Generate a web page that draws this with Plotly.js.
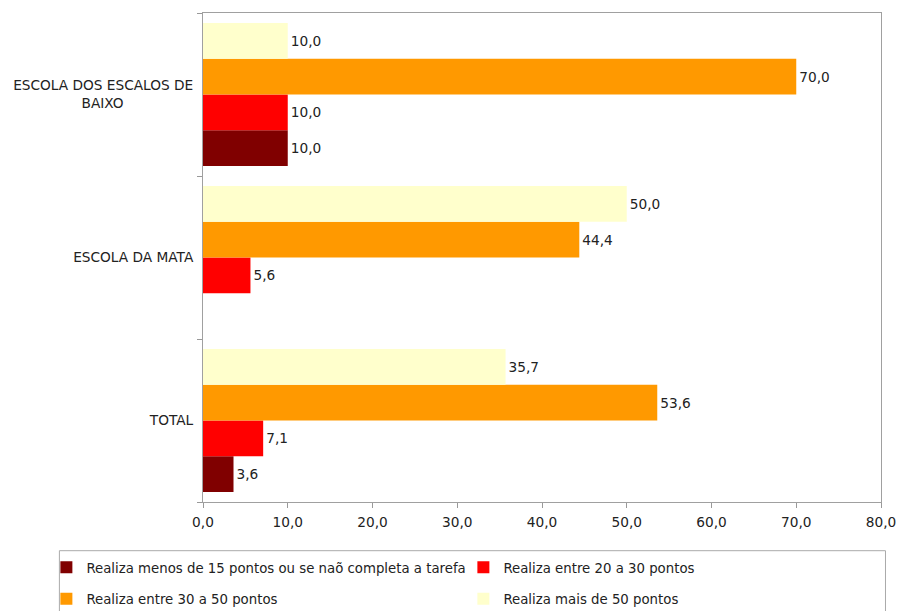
<!DOCTYPE html>
<html>
<head>
<meta charset="utf-8">
<script src="https://cdn.plot.ly/plotly-3.0.1.min.js"></script>
<style>html,body{margin:0;padding:0;background:#fff;}#chart{width:898px;height:611px;}</style>
</head>
<body>
<div id="chart"></div>
<script>
// Categories, bottom to top as drawn
const categories = ['TOTAL', 'ESCOLA DA MATA', 'ESCOLA DOS ESCALOS DE BAIXO'];
const categoryLabels = ['TOTAL', 'ESCOLA DA MATA', 'ESCOLA DOS ESCALOS DE<br>BAIXO' + '\u00a0'.repeat(16)];

const seriesNames = [
  'Realiza menos de 15 pontos ou se naõ completa a tarefa',
  'Realiza entre 20 a 30 pontos',
  'Realiza entre 30 a 50 pontos',
  'Realiza mais de 50 pontos'
];
const menos15 = [3.6, null, 10.0];
const entre20a30 = [7.1, 5.6, 10.0];
const entre30a50 = [53.6, 44.4, 70.0];
const mais50 = [35.7, 50.0, 10.0];

const xTicks = [0, 10, 20, 30, 40, 50, 60, 70, 80];

const colors = ['#800000', '#FF0000', '#FF9900', '#FFFFCC'];
const seriesValues = [menos15, entre20a30, entre30a50, mais50];
const legendIds = ['legend', 'legend', 'legend2', 'legend2'];

const font = {family: 'DejaVu Sans, Verdana, sans-serif', size: 13.7, color: '#222'};
const legendFont = {family: 'DejaVu Sans, Verdana, sans-serif', size: 13.3, color: '#222'};

const traces = seriesValues.map((vals, i) => ({
  type: 'bar',
  orientation: 'h',
  name: seriesNames[i],
  y: categories,
  x: vals,
  marker: {color: colors[i], line: {width: 0}},
  texttemplate: vals.map(v => v === null ? '' : '%{x:.1f}'),
  textposition: 'outside',
  textfont: font,
  cliponaxis: false,
  hoverinfo: 'skip',
  legend: legendIds[i]
}));

const legendCommon = {
  orientation: 'h',
  xanchor: 'left',
  yanchor: 'middle',
  font: legendFont,
  bgcolor: 'rgba(0,0,0,0)',
  borderwidth: 0,
  entrywidth: 372,
  entrywidthmode: 'pixels',
  itemwidth: 30,
  itemclick: false,
  itemdoubleclick: false
};

const plotBottom = 502, plotH = 489;
const py = px => (plotBottom - px) / plotH;

const layout = {
  width: 898,
  height: 611,
  margin: {l: 203, r: 16.5, t: 13, b: 109, autoexpand: false},
  paper_bgcolor: '#fff',
  plot_bgcolor: '#fff',
  font: font,
  separators: ', ',
  barmode: 'group',
  bargap: 0.123,
  bargroupgap: 0,
  showlegend: true,
  xaxis: {
    range: [0, 80],
    tickvals: xTicks,
    tickformat: '.1f',
    ticks: 'outside',
    ticklen: 5,
    tickcolor: '#999',
    showgrid: false,
    zeroline: false,
    showline: true,
    linecolor: '#a0a0a0',
    linewidth: 1,
    mirror: true,
    tickfont: font,
    ticklabelstandoff: 3,
    fixedrange: true
  },
  yaxis: {
    type: 'category',
    categoryorder: 'array',
    categoryarray: categories,
    tickvals: categories,
    ticktext: categoryLabels,
    tickson: 'boundaries',
    ticks: 'outside',
    ticklen: 5,
    tickcolor: '#999',
    showgrid: false,
    zeroline: false,
    showline: true,
    linecolor: '#a0a0a0',
    linewidth: 1,
    mirror: true,
    tickfont: font,
    ticklabelstandoff: 6,
    fixedrange: true
  },
  legend: Object.assign({}, legendCommon, {x: -0.231, y: py(567.7)}),
  legend2: Object.assign({}, legendCommon, {x: -0.231, y: py(599)}),
  shapes: [{
    type: 'rect', xref: 'paper', yref: 'paper',
    x0: (59.3 - 203) / 678.5, x1: (886 - 203) / 678.5,
    y0: py(620), y1: py(550.7),
    line: {color: '#aaa', width: 1},
    fillcolor: 'rgba(0,0,0,0)',
    layer: 'below'
  }]
};

Plotly.newPlot('chart', traces, layout, {displayModeBar: false, staticPlot: true});
</script>
</body>
</html>
